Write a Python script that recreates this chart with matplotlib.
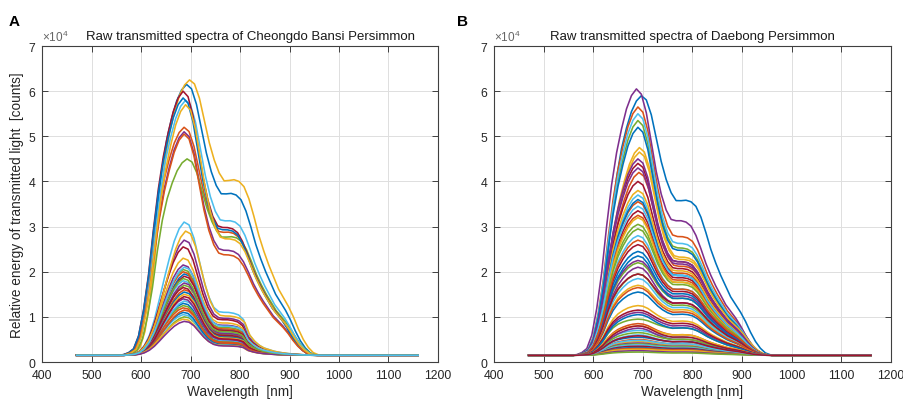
import matplotlib.pyplot as plt
import numpy as np

# wavelength knots [nm]
wl = np.r_[[470, 500, 530], np.arange(560, 961, 10), [1000, 1050, 1100, 1160]]

# shapes (normalised, 1 = full height)
# visible peak around 690 nm
peak_shape = [0, 0, 0, 0, 0, 0.005, 0.01, 0.03, 0.07, 0.14,
              0.25, 0.40, 0.56, 0.71, 0.85, 0.95, 1.0, 0.96, 0.82, 0.60,
              0.38, 0.21, 0.10, 0.04, 0.01] + [0] * 23
# broad NIR plateau with long tail (bright fruit)
nir_broad = [0, 0, 0, 0, 0.005, 0.015, 0.04, 0.12, 0.28, 0.48,
             0.72, 0.88, 0.96, 0.99, 1.0, 1.0, 1.0, 1.0, 1.0, 1.0,
             1.0, 1.0, 0.99, 0.98, 1.0, 1.01, 1.0, 0.97, 0.90, 0.80,
             0.69, 0.60, 0.52, 0.45, 0.38, 0.33, 0.28, 0.22, 0.15, 0.09,
             0.045, 0.015, 0.003, 0, 0, 0, 0, 0]
# narrow NIR shoulder (dim fruit)
nir_narrow = [0, 0, 0, 0, 0, 0.005, 0.015, 0.03, 0.08, 0.17,
              0.30, 0.45, 0.60, 0.74, 0.85, 0.93, 0.98, 1.0, 0.99, 0.97,
              0.95, 0.93, 0.92, 0.95, 1.0, 1.02, 1.0, 0.96, 0.85, 0.52,
              0.36, 0.25, 0.18, 0.14, 0.10, 0.075, 0.055, 0.04, 0.03, 0.02,
              0.012, 0.006, 0.002, 0, 0, 0, 0, 0]
baseline = 0.15  # x1e4 counts

# Panel A - Cheongdo Bansi (x1e4 counts): peak height, height at ~790 nm, peak offset [nm]
A_high_peak = [6.15, 5.20, 6.25, 5.10, 4.50, 5.80, 6.00, 5.85, 5.05, 5.70]
A_high_shoulder = [3.70, 2.85, 4.00, 2.45, 2.75, 3.10, 2.95, 2.90, 2.35, 2.70]
A_high_shift = [2, -3, 8, -3, 3, 0, -5, -5, -3, 0]

A_low_peak = [2.70, 2.05, 3.10, 2.55, 1.95, 2.00, 2.90, 2.15, 1.70, 1.80,
              1.90, 1.30, 1.60, 2.30, 1.75, 1.25, 1.35, 1.65, 1.55, 1.20,
              1.50, 1.40, 1.00, 1.05, 1.45, 1.10, 1.15, 0.95, 0.90, 1.85,
              2.10]
A_low_shoulder = [0.95, 0.75, 1.08, 0.92, 0.70, 0.72, 1.00, 0.80, 0.60, 0.64,
                  0.68, 0.45, 0.56, 0.85, 0.62, 0.44, 0.47, 0.58, 0.54, 0.43,
                  0.52, 0.49, 0.37, 0.39, 0.50, 0.40, 0.41, 0.36, 0.35, 0.66,
                  0.78]
A_low_shift = [-3, -5, -3, -5, -3, -5, 0, -5, -3, -5,
               -3, -5, -3, -5, -3, -5, -3, -5, -3, -5,
               -3, -5, -3, -5, -3, -5, -3, -5, -3, -5,
               -3]

# Panel B - Daebong
B_peak = [5.90, 5.65, 4.75, 6.05, 5.35, 5.50, 4.40, 5.20, 4.20, 4.65,
          4.50, 3.05, 3.70, 4.00, 2.45, 3.55, 3.80, 4.30, 2.20, 2.80,
          3.35, 3.60, 3.25, 3.20, 2.25, 2.95, 3.45, 2.60, 2.35, 2.70,
          1.70, 2.10, 1.95, 1.85, 1.95, 1.55, 1.65, 1.25, 1.10, 0.95,
          0.70, 1.15, 1.05, 0.85, 0.80, 0.75, 0.65, 0.60, 0.80, 0.55,
          0.50, 0.45, 0.42, 0.40, 0.38, 0.35, 0.32, 0.30, 0.28, 0.25,
          0.22, 0.48, 0.58]
B_shoulder = [3.55, 2.75, 2.30, 3.10, 2.50, 2.60, 2.20, 2.45, 2.10, 2.25,
              2.20, 1.75, 1.90, 2.05, 1.50, 1.95, 2.00, 2.15, 1.40, 1.60,
              1.85, 1.90, 1.80, 1.75, 1.45, 1.70, 1.90, 1.55, 1.40, 1.60,
              1.15, 1.30, 1.25, 1.20, 1.30, 1.05, 1.10, 0.90, 0.80, 0.75,
              0.55, 0.85, 0.75, 0.60, 0.60, 0.50, 0.50, 0.45, 0.55, 0.45,
              0.40, 0.38, 0.35, 0.34, 0.32, 0.30, 0.28, 0.27, 0.25, 0.22,
              0.20, 0.40, 0.45]
B_shift = [7, 0, 3, -3, 0, 0, 0, 0, 2, 3] + [0] * 53

matlab_colors = ['#0072BD', '#D95319', '#EDB120', '#7E2F8E',
                 '#77AC30', '#4DBEEE', '#A2142F']

plt.rcParams['font.family'] = ['Liberation Sans', 'DejaVu Sans']
plt.rcParams['mathtext.fontset'] = 'custom'
plt.rcParams['mathtext.rm'] = 'Liberation Sans'
txt = '#262626'

# only the spectral band moves with the peak offset, the flat ends stay put
band = (wl >= 560) & (wl <= 960)


def draw(ax, peaks, shoulders, shifts, nir):
    P = np.array(peak_shape)
    N = np.array(nir)
    n690 = N[list(wl).index(690)]
    for pk, sh, dx in zip(peaks, shoulders, shifts):
        s = sh - baseline
        p = pk - baseline - s * n690
        y = baseline + p * P + s * N
        ax.plot(wl + dx * band, y, lw=1.15)


def style(ax, title, xlabel, title_x=0.5):
    ax.set_prop_cycle(color=matlab_colors)
    ax.set_xlim(400, 1200)
    ax.set_ylim(0, 7)
    ax.set_xticks(np.arange(400, 1201, 100))
    ax.set_yticks(np.arange(0, 8, 1))
    ax.grid(True, color='#dedede', lw=0.7)
    ax.set_axisbelow(True)
    ax.tick_params(direction='in', top=True, right=True, length=4, width=0.6,
                   colors=txt, labelsize=8.8, pad=5)
    for sp in ax.spines.values():
        sp.set_color('#404040')
        sp.set_linewidth(0.8)
    ax.set_title(title, fontsize=9.5, color='#1a1a1a', pad=5, x=title_x)
    ax.set_xlabel(xlabel, fontsize=9.8, color=txt, labelpad=2)
    ax.text(0.0, 1.005, r'$\times10^{4}$', transform=ax.transAxes,
            fontsize=8.5, color='#666666', ha='left', va='bottom')


fig = plt.figure(figsize=(9.04, 4.02), dpi=100)
axA = fig.add_axes([0.0465, 0.097, 0.438, 0.786])
axB = fig.add_axes([0.5465, 0.097, 0.439, 0.786])

style(axA, 'Raw transmitted spectra of Cheongdo Bansi Persimmon', 'Wavelength  [nm]',
      title_x=0.527)
axA.set_ylabel('Relative energy of transmitted light  [counts]', fontsize=9.8,
               color=txt, labelpad=3)
draw(axA, A_high_peak, A_high_shoulder, A_high_shift, nir_broad)
draw(axA, A_low_peak, A_low_shoulder, A_low_shift, nir_narrow)

style(axB, 'Raw transmitted spectra of Daebong Persimmon', 'Wavelength [nm]')
draw(axB, B_peak, B_shoulder, B_shift, nir_broad)

fig.text(0.009, 0.945, 'A', fontsize=11, fontweight='bold', va='center')
fig.text(0.506, 0.945, 'B', fontsize=11, fontweight='bold', va='center')

fig.savefig('out.png', dpi=100)
